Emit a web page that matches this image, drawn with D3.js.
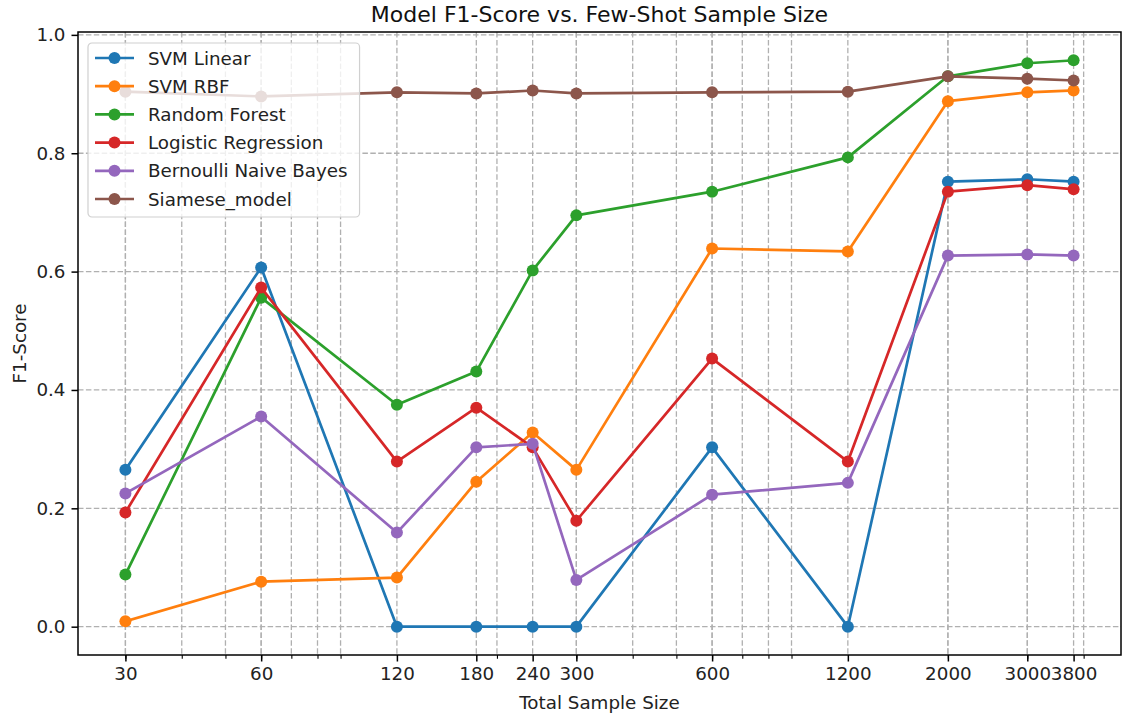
<!DOCTYPE html>
<html>
<head>
<meta charset="utf-8">
<script src="https://cdn.jsdelivr.net/npm/d3@7"></script>
<style>
  html, body { margin: 0; padding: 0; background: #fff; }
  svg { display: block; font-family: "DejaVu Sans", sans-serif; }
</style>
</head>
<body>
<svg id="chart" width="1124" height="718"></svg>
<script>
// Few-shot sample sizes (x) and F1 scores per model
const sampleSizes = [30, 60, 120, 180, 240, 300, 600, 1200, 2000, 3000, 3800];
const tickLabels  = ["30", "60", "120", "180", "240", "300", "600", "1200", "2000", "3000", "3800"];
const modelNames  = ["SVM Linear", "SVM RBF", "Random Forest", "Logistic Regression", "Bernoulli Naive Bayes", "Siamese_model"];
const svmLinear   = [0.265, 0.607, 0.0, 0.0, 0.0, 0.0, 0.303, 0.0, 0.752, 0.756, 0.752];
const svmRbf      = [0.009, 0.076, 0.083, 0.245, 0.328, 0.265, 0.639, 0.634, 0.888, 0.903, 0.906];
const randomForest= [0.088, 0.556, 0.375, 0.431, 0.602, 0.695, 0.735, 0.793, 0.930, 0.952, 0.957];
const logReg      = [0.193, 0.573, 0.279, 0.370, 0.303, 0.179, 0.453, 0.279, 0.735, 0.746, 0.739];
const bernoulliNB = [0.225, 0.355, 0.159, 0.303, 0.309, 0.079, 0.223, 0.243, 0.627, 0.629, 0.627];
const siamese     = [0.904, 0.896, 0.903, 0.901, 0.906, 0.901, 0.903, 0.904, 0.930, 0.926, 0.923];
const yTicks      = [0.0, 0.2, 0.4, 0.6, 0.8, 1.0];
const colors      = ["#1f77b4", "#ff7f0e", "#2ca02c", "#d62728", "#9467bd", "#8c564b"];

const seriesValues = [svmLinear, svmRbf, randomForest, logReg, bernoulliNB, siamese];
const series = modelNames.map((name, i) => ({
  name, color: colors[i],
  points: sampleSizes.map((x, j) => ({ x, y: seriesValues[i][j] }))
}));

const FS = 18.3;       // body text size
const TITLE_FS = 22;   // title size
const LW = 2.7;        // series line width
const MR = 6;          // marker radius

const svg = d3.select("#chart");
const W = 1124, H = 718;
const plotL = 78, plotR = 1121, plotT = 32, plotB = 655;

// Log x axis with 5% padding in log space; linear y with 5% padding
const lx0 = Math.log10(d3.min(sampleSizes)), lx1 = Math.log10(d3.max(sampleSizes));
const padX = (lx1 - lx0) * 0.05;
const x = d3.scaleLog()
  .domain([Math.pow(10, lx0 - padX), Math.pow(10, lx1 + padX)])
  .range([plotL, plotR]);

const allY = seriesValues.flat();
const yMin = d3.min(allY), yMax = d3.max(allY);
const padY = (yMax - yMin) * 0.05;
const y = d3.scaleLinear().domain([yMin - padY, yMax + padY]).range([plotB, plotT]);

// Minor log ticks (2..9 x 10^n) inside the domain
const minorTicks = [];
for (let e = 1; e <= 3; e++) {
  for (let m = 2; m <= 9; m++) {
    const v = m * Math.pow(10, e);
    if (v >= x.domain()[0] && v <= x.domain()[1]) minorTicks.push(v);
  }
}

const gridColor = "#b0b0b0";
const dash = "5.5,2.4";
const grid = svg.append("g");
grid.selectAll("line.v").data(minorTicks.concat(sampleSizes)).join("line")
  .attr("x1", d => x(d)).attr("x2", d => x(d))
  .attr("y1", plotT).attr("y2", plotB)
  .attr("stroke", gridColor).attr("stroke-width", 1.3)
  .attr("stroke-dasharray", dash);
grid.selectAll("line.h").data(yTicks).join("line")
  .attr("x1", plotL).attr("x2", plotR)
  .attr("y1", d => y(d)).attr("y2", d => y(d))
  .attr("stroke", gridColor).attr("stroke-width", 1.3)
  .attr("stroke-dasharray", dash);

// Series lines and markers
const line = d3.line().x(d => x(d.x)).y(d => y(d.y));
const gSeries = svg.append("g");
series.forEach(s => {
  const g = gSeries.append("g");
  g.append("path").datum(s.points)
    .attr("d", line).attr("fill", "none")
    .attr("stroke", s.color).attr("stroke-width", LW)
    .attr("stroke-linejoin", "round").attr("stroke-linecap", "square");
  g.selectAll("circle").data(s.points).join("circle")
    .attr("cx", d => x(d.x)).attr("cy", d => y(d.y))
    .attr("r", MR).attr("fill", s.color);
});

// Axes
const xAxis = d3.axisBottom(x).tickValues(sampleSizes)
  .tickFormat((d, i) => tickLabels[i]).tickSize(6.5).tickPadding(6);
const xMinorAxis = d3.axisBottom(x).tickValues(minorTicks).tickFormat("").tickSize(3.7);
const yAxis = d3.axisLeft(y).tickValues(yTicks).tickFormat(d3.format(".1f")).tickSize(6.5).tickPadding(6);

const gx = svg.append("g").attr("transform", `translate(0,${plotB})`).call(xAxis);
const gxm = svg.append("g").attr("transform", `translate(0,${plotB})`).call(xMinorAxis);
const gy = svg.append("g").attr("transform", `translate(${plotL},0)`).call(yAxis);
[gx, gy].forEach(g => g.selectAll("line").attr("stroke-width", 1.5));
gxm.selectAll("line").attr("stroke-width", 1.1);
[gx, gxm, gy].forEach(g => {
  g.select(".domain").remove();
  g.selectAll("line").attr("stroke", "#000");
  g.selectAll("text").attr("fill", "#222").attr("font-size", FS)
    .attr("font-family", "DejaVu Sans, sans-serif");
});

// Plot frame
svg.append("rect")
  .attr("x", plotL).attr("y", plotT)
  .attr("width", plotR - plotL).attr("height", plotB - plotT)
  .attr("fill", "none").attr("stroke", "#000").attr("stroke-width", 1.5);

// Titles
svg.append("text").attr("x", (plotL + plotR) / 2).attr("y", 22)
  .attr("text-anchor", "middle").attr("font-size", TITLE_FS).attr("fill", "#111")
  .text("Model F1-Score vs. Few-Shot Sample Size");
svg.append("text").attr("x", (plotL + plotR) / 2).attr("y", 709)
  .attr("text-anchor", "middle").attr("font-size", FS).attr("fill", "#222")
  .text("Total Sample Size");
svg.append("text")
  .attr("transform", `translate(26,${(plotT + plotB) / 2}) rotate(-90)`)
  .attr("text-anchor", "middle").attr("font-size", FS).attr("fill", "#222")
  .text("F1-Score");

// Legend (upper left)
const legend = svg.append("g").attr("transform", `translate(${plotL + 10},${plotT + 11})`);
const rowH = 28.2;
const box = legend.append("rect")
  .attr("x", 0).attr("y", 0).attr("height", 174)
  .attr("rx", 4).attr("fill", "#fff").attr("fill-opacity", 0.8)
  .attr("stroke", "#d0d0d0").attr("stroke-width", 1.2);
let maxW = 0;
series.forEach((s, i) => {
  const cy = 15 + i * rowH;
  legend.append("line").attr("x1", 7).attr("x2", 46)
    .attr("y1", cy).attr("y2", cy)
    .attr("stroke", s.color).attr("stroke-width", LW);
  legend.append("circle").attr("cx", 26.5).attr("cy", cy).attr("r", MR).attr("fill", s.color);
  const t = legend.append("text").attr("x", 60).attr("y", cy + 6.5)
    .attr("font-size", FS).attr("fill", "#222").text(s.name);
  maxW = Math.max(maxW, t.node().getComputedTextLength());
});
box.attr("width", 60 + maxW + 12);
</script>
</body>
</html>
